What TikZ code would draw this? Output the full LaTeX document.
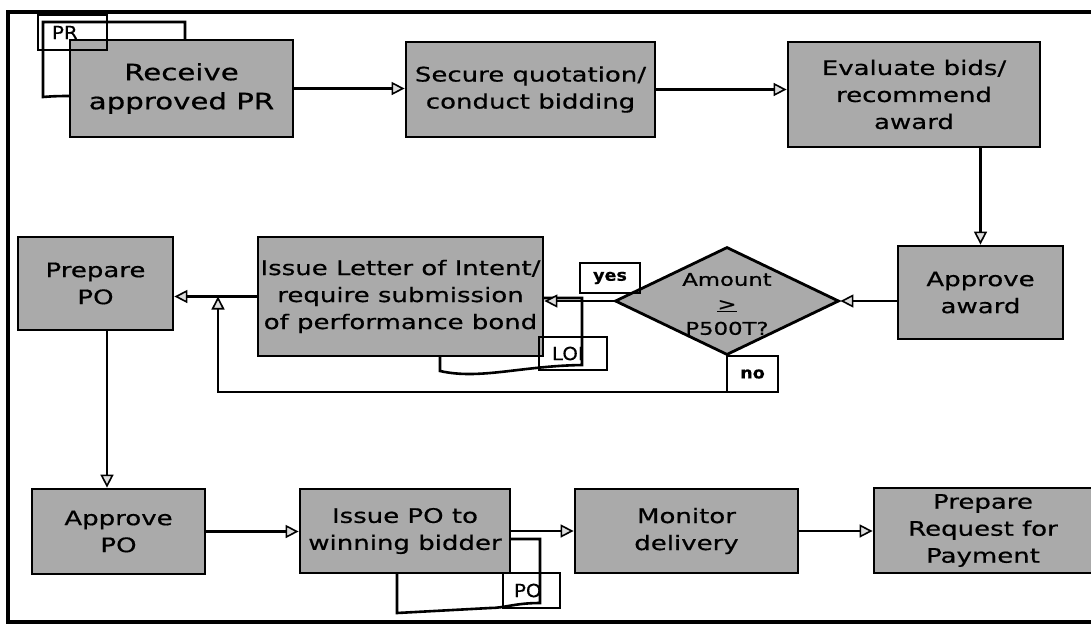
\documentclass[tikz,border=0pt]{standalone}
\usepackage{fontspec}
\usetikzlibrary{shapes.geometric,arrows.meta}
\newfontfamily\boxfont[FakeStretch=1.3,FakeBold=0.6]{DejaVu Sans}
\newfontfamily\lblfont[FakeStretch=1.1,FakeBold=0.4]{DejaVu Sans}
\definecolor{boxgray}{RGB}{170,170,170}
\begin{document}
\begin{tikzpicture}[x=1pt,y=-1pt,
  proc/.style={draw=black, line width=2.8pt, fill=boxgray, align=center, inner sep=0pt,
    font=\boxfont\fontsize{20}{27}\selectfont},
  dec/.style={diamond, draw=black, line width=2.8pt, fill=boxgray, inner sep=0pt},
  dtext/.style={align=center, inner sep=0pt, font=\boxfont\fontsize{17.5}{24.5}\selectfont},
  doc/.style={draw=black, line width=2.6pt, fill=white},
  lbl/.style={draw=black, line width=2.4pt, inner ysep=0pt, align=left,
    font=\lblfont\fontsize{18}{20}\selectfont},
  yn/.style={draw=black, line width=2.4pt, inner sep=0pt,
    font=\lblfont\bfseries\fontsize{16}{18}\selectfont},
  arr/.style={line width=2.2pt, -{Triangle[length=13pt, width=13pt, line width=1.6pt, fill=boxgray!40]}},
  frame/.style={line width=3.2pt}
]
\useasboundingbox (0,0) rectangle (1091,624);
% outer frame
\draw[frame] (1100,12) -- (8,12) -- (8,622) -- (1100,622);

% documents behind the boxes
\draw[doc] (43,22) -- (185,22) -- (185,100) .. controls (140,108) and (100,92) .. (43,97) -- cycle;
\draw[doc] (440,298) -- (582,298) -- (582,365) .. controls (520,366) and (480,380) .. (440,371) -- cycle;
\draw[doc] (397,539) -- (540,539) -- (540,603) .. controls (515,603) and (505,608) .. (490,608) -- (397,613) -- cycle;

% process boxes
\node[proc, minimum width=223, minimum height=97, font=\boxfont\fontsize{22.5}{29}\selectfont] (rec) at (181.5,88.5) {Receive\\approved PR};
\node[proc, minimum width=249, minimum height=95] (sec) at (530.5,89.5) {Secure quotation/\\conduct bidding};
\node[proc, minimum width=252, minimum height=105] (eva) at (914,94.5) {Evaluate bids/\\recommend\\award};
\node[proc, minimum width=165, minimum height=93] (apa) at (980.5,292.5) {Approve\\award};
\node[dec, minimum width=224, minimum height=108] (dia) at (727,301) {};
\node[dtext] (diat) at (727,304) {Amount\\\underline{>}\\P500T?};
\node[proc, minimum width=285, minimum height=119] (loi) at (400.5,296.5) {Issue Letter of Intent/\\require submission\\of performance bond};
\node[proc, minimum width=155, minimum height=93] (ppo) at (95.5,283.5) {Prepare\\PO};
\node[proc, minimum width=173, minimum height=85] (apo) at (118.5,531.5) {Approve\\PO};
\node[proc, minimum width=210, minimum height=84] (ipo) at (405,531) {Issue PO to\\winning bidder};
\node[proc, minimum width=223, minimum height=84] (mon) at (686.5,531) {Monitor\\delivery};
\node[proc, minimum width=218, minimum height=85] (req) at (983,530.5) {Prepare\\Request for\\Payment};

% labels
\node[lbl, minimum height=35, inner xsep=14, text width=41] (prl) at (72.5,32.5) {PR};
\node[lbl, minimum height=33, inner xsep=13, text width=42] (loil) at (573,353.5) {LOI};
\node[lbl, minimum height=35, inner xsep=11, text width=35] (pol) at (531.5,590.5) {PO};
\node[yn, minimum width=60, minimum height=30] (yes) at (610,278) {yes};
\node[yn, minimum width=51, minimum height=36] (no) at (752.5,374) {no};

% helper coordinates
\coordinate (nobend) at (218,392);
\coordinate (nojoin) at (218,296.5);
\coordinate (poline) at (107,0);

% connectors
\draw[arr] (rec.east) -- (rec.east -| sec.west);
\draw[arr] (sec.east) -- (sec.east -| eva.west);
\draw[arr] (eva.south -| apa.north) -- (apa.north);
\draw[arr] (apa.west |- dia.east) -- (dia.east);
\draw[arr] (dia.west) -- (dia.west -| loi.east);
\draw[arr] (loi.west) -- (loi.west -| ppo.east);
\draw[arr] (dia.south) |- (nobend) -- (nojoin);
\draw[arr] (ppo.south -| poline) -- (apo.north -| poline);
\draw[arr] (apo.east) -- (apo.east -| ipo.west);
\draw[arr] (ipo.east) -- (ipo.east -| mon.west);
\draw[arr] (mon.east) -- (mon.east -| req.west);
\end{tikzpicture}
\end{document}
